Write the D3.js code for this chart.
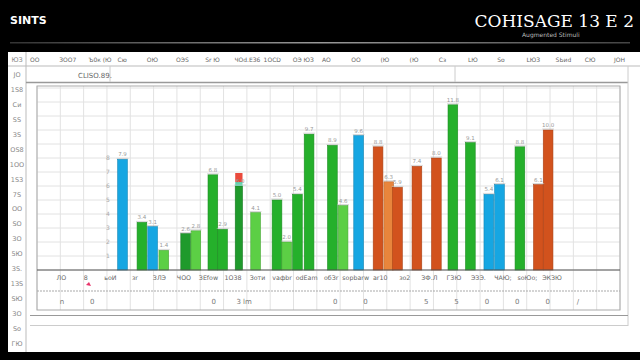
<!DOCTYPE html>
<html><head><meta charset="utf-8">
<script src="https://cdn.jsdelivr.net/npm/d3@7/dist/d3.min.js"></script>
<style>html,body{margin:0;padding:0;background:#000;}svg{display:block;}</style>
</head><body>
<svg id="c" width="640" height="360"></svg>
<script>
// ---- data ----
const barPos = [8.3,10.3,11.4,12.55,14.8,15.85,17.6,18.6,20.4,22.0,24.2,25.2,26.3,27.5,29.9,31.0,32.6,34.6,35.7,36.6,38.6,40.6,42.3,44.1,46.0,47.1,49.2,51.1,52.1];
const barValues = [7.9,3.4,3.1,1.4,2.6,2.8,6.8,2.9,6.0,4.1,5.0,2.0,5.4,9.7,8.9,4.6,9.6,8.8,6.3,5.9,7.4,8.0,11.8,9.1,5.4,6.1,8.8,6.1,10.0];
const barSeries = ["A","B","A","C","D","C","B","B","D","C","B","C","B","B","B","C","A","E","F","E","E","E","B","B","A","A","B","E","E"];
const seriesNames = ["A","B","C","D","E","F"];
const seriesColors = ["#16a6e2","#25b02b","#5ccf45","#1f9a2c","#d2521d","#e8853c"];
const catLabels = ["ЛО","8","ьоИ","зr","ЗЛЭ","ЧОО","ЗЕfоw","1О38","Зоти","vафbr","оdЕаm","обЗr","ѕорbаrw","аr10","зо2","ЗФ.Л","ГЗЮ","ЭЗЭ.","ЧАЮ;","ѕоЮо;","ЭКЗЮ"];
const topLabels = ["ОО","ЗОО7","Ъ0к (Ю","Сю","ОЮ","ОЭЅ","Ѕr Ю","ЧОd.ЕЗ6","1ОСD","ОЭ ЮЗ","АО","ОО","(Ю","(Ю","Сз","LЮ","Ѕо","LЮЗ","ЅЬиd","СЮ","ЈОН"];
const sideLabels = ["ЮЗ","ЈО","1Ѕ8","Си","ЅЅ","ЗЅ","ОЅ8","1ОО","1ЅЗ","7Ѕ","ОО","ЅО","ЗО","5Ю","ЗЅ.","1ЗЅ","ЅЮ","ЗО","Ѕо","ГЮ"];
const bottomNums = ["n","0","","","","0","3 lm","","","0","0","","5","5","0","0","0","/"];
const yTicks = [1,2,3,4,5,6,7,8];
const titleLeft = "SINTS";
const titleRight = "COHISAGE 13 E 2";
const subtitle = "Augmented Stimuli";
const boxLabel = "CLISO.89.";

// ---- drawing ----
const svg = d3.select("#c");
const F = "DejaVu Sans, sans-serif";
svg.append("rect").attr("width",640).attr("height",360).attr("fill","#000");
svg.append("text").attr("x",10).attr("y",24).attr("fill","#fff").attr("font-family",F)
  .attr("font-weight","bold").attr("font-size",11).text(titleLeft);
svg.append("text").attr("x",634).attr("y",27).attr("text-anchor","end").attr("fill","#fff").attr("font-family","DejaVu Serif, serif")
  .attr("font-size",17).text(titleRight);
svg.append("text").attr("x",522).attr("y",37).attr("fill","#bbb").attr("font-family",F)
  .attr("font-size",6).text(subtitle);
const lg = svg.append("defs").append("linearGradient").attr("id","hl");
lg.append("stop").attr("offset","0").attr("stop-color","#333");
lg.append("stop").attr("offset","0.5").attr("stop-color","#999");
lg.append("stop").attr("offset","1").attr("stop-color","#444");
svg.append("rect").attr("x",10).attr("y",42).attr("width",620).attr("height",1.5).attr("fill","url(#hl)");

// white panel
svg.append("rect").attr("x",8).attr("y",52).attr("width",632).attr("height",300).attr("fill","#fff");
svg.append("line").attr("x1",26).attr("x2",26).attr("y1",52).attr("y2",352).attr("stroke","#bbb");
svg.append("line").attr("x1",8).attr("x2",640).attr("y1",66).attr("y2",66).attr("stroke","#bbb");
svg.append("line").attr("x1",26).attr("x2",628).attr("y1",82.5).attr("y2",82.5).attr("stroke","#999").attr("stroke-width",1.5);
svg.append("line").attr("x1",628).attr("x2",628).attr("y1",66).attr("y2",326).attr("stroke","#ccc");
[110,455].forEach(x=>svg.append("line").attr("x1",x).attr("x2",x).attr("y1",66).attr("y2",82).attr("stroke","#ccc"));
svg.append("text").attr("x",78).attr("y",78).attr("font-family",F).attr("font-size",7).attr("fill","#666").text(boxLabel);

// top labels
const tx = d3.scalePoint().domain(d3.range(topLabels.length)).range([30,614]);
svg.append("g").selectAll("text").data(topLabels).join("text")
  .attr("x",(d,i)=>tx(i)).attr("y",62).attr("font-family",F).attr("font-size",6).attr("fill","#666").text(d=>d);
// side labels
const sy = d3.scalePoint().domain(d3.range(sideLabels.length)).range([62,346]);
svg.append("g").selectAll("text").data(sideLabels).join("text")
  .attr("x",17).attr("y",(d,i)=>sy(i)).attr("text-anchor","middle").attr("font-family",F).attr("font-size",6.5).attr("fill","#888").text(d=>d);

// plot
const x = d3.scaleLinear().domain([0,60]).range([37,620]);
const y = d3.scaleLinear().domain([0,13]).range([270,88]);
const color = d3.scaleOrdinal().domain(seriesNames).range(seriesColors);
const g = svg.append("g");
// grid
g.selectAll(".vg").data(d3.range(0,60.01,2.4)).join("line")
  .attr("x1",d=>x(d)).attr("x2",d=>x(d)).attr("y1",86).attr("y2",310).attr("stroke","#e2e2e2");
g.selectAll(".hg").data(d3.range(0,13.01,1)).join("line")
  .attr("x1",x(0)).attr("x2",x(60)).attr("y1",d=>y(d)).attr("y2",d=>y(d)).attr("stroke","#e2e2e2");
g.append("rect").attr("x",x(0)).attr("y",86).attr("width",x(60)-x(0)).attr("height",224)
  .attr("fill","none").attr("stroke","#aaa");
// y axis inside
const ya = g.append("g").attr("transform",`translate(${x(7.8)},0)`)
  .call(d3.axisLeft(y).tickValues(yTicks).tickSize(0).tickFormat(d3.format("d")));
ya.select(".domain").remove();
ya.selectAll("text").attr("font-size",6).attr("fill","#aaa").attr("font-family",F);

// bars
const bw = x(1)-x(0);
const bars = barValues.map((v,i)=>({v,p:barPos[i],s:barSeries[i]}));
g.selectAll(".bar").data(bars).join("rect")
  .attr("x",d=>x(d.p)).attr("width",d=>d.s==="D"&&d.v===6.0?bw*0.75:bw)
  .attr("y",d=>y(d.v)).attr("height",d=>y(0)-y(d.v))
  .attr("fill",d=>color(d.s)).attr("stroke",d=>d3.color(color(d.s)).darker(0.6)).attr("stroke-width",0.6);
// marker on one bar
const mk = bars[8];
g.append("rect").attr("x",x(mk.p)).attr("y",y(mk.v)-13).attr("width",bw*0.75).attr("height",9).attr("fill","#ea4a3c");
g.append("rect").attr("x",x(mk.p)).attr("y",y(mk.v)-4).attr("width",bw*0.75).attr("height",4).attr("fill","#5fd6b0");
// value labels
g.selectAll(".vl").data(bars).join("text")
  .attr("x",d=>x(d.p)+bw/2).attr("y",d=>y(d.v)-3).attr("text-anchor","middle")
  .attr("font-family",F).attr("font-size",5.5).attr("fill","#999").text(d=>d3.format(".1f")(d.v));
g.selectAll(".vt").data(bars).join("line")
  .attr("x1",d=>x(d.p)-1).attr("x2",d=>x(d.p)+bw+1).attr("y1",d=>y(d.v)-1).attr("y2",d=>y(d.v)-1)
  .attr("stroke","#bbb").attr("stroke-width",0.6);
// baseline
g.append("line").attr("x1",x(0)).attr("x2",x(60)).attr("y1",y(0)).attr("y2",y(0)).attr("stroke","#555");

// category labels
const cx = d3.scalePoint().domain(d3.range(catLabels.length)).range([x(2.5),x(53)]);
g.selectAll(".cl").data(catLabels).join("text")
  .attr("x",(d,i)=>cx(i)).attr("y",280).attr("text-anchor","middle")
  .attr("font-family",F).attr("font-size",6.3).attr("fill","#666").text(d=>d);
g.append("path").attr("d","M86,285 l3,-3 l2,4 z").attr("fill","#e8336a");
g.append("line").attr("x1",x(0)).attr("x2",x(60)).attr("y1",291).attr("y2",291)
  .attr("stroke","#aaa").attr("stroke-dasharray","2,1").attr("stroke-width",1.2);
const bx = d3.scalePoint().domain(d3.range(bottomNums.length)).range([62,578]);
g.selectAll(".bn").data(bottomNums).join("text")
  .attr("x",(d,i)=>bx(i)).attr("y",304).attr("text-anchor","middle")
  .attr("font-family",F).attr("font-size",7).attr("fill","#777").text(d=>d);
svg.append("line").attr("x1",30).attr("x2",628).attr("y1",315.5).attr("y2",315.5).attr("stroke","#999");
svg.append("line").attr("x1",30).attr("x2",628).attr("y1",325.5).attr("y2",325.5).attr("stroke","#ccc");
</script>
</body></html>
